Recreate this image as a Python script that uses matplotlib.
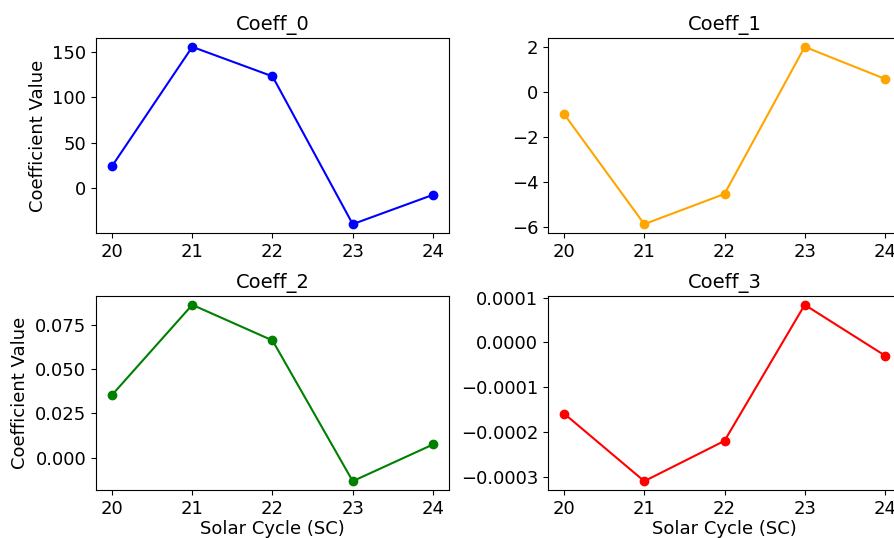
import matplotlib
matplotlib.use('agg')
import matplotlib.pyplot as plt

# ciclos solares
ciclos = [20, 21, 22, 23, 24]

coeff_0 = [24.0, 155.5, 123.0, -40.0, -7.7]
coeff_1 = [-0.98, -5.87, -4.53, 2.0, 0.58]
coeff_2 = [0.0355, 0.0866, 0.0664, -0.0134, 0.0074]
coeff_3 = [-0.000159, -0.00031, -0.00022, 0.0000837, -0.0000296]

nomes = ["Coeff_0", "Coeff_1", "Coeff_2", "Coeff_3"]
cores = ["blue", "orange", "green", "red"]
valores = [coeff_0, coeff_1, coeff_2, coeff_3]

plt.rcParams['font.size'] = 13

W, H = 894, 538
fig = plt.figure(figsize=(W / 100, H / 100), dpi=100)

# posicoes em pixels (esq, topo, dir, baixo) - a coluna da direita passa da borda
caixas = [(96, 38, 449, 233), (548, 38, 901, 233),
          (96, 296, 449, 490), (548, 296, 901, 490)]

for i in range(4):
    x0, y0, x1, y1 = caixas[i]
    ax = fig.add_axes([x0 / W, 1 - y1 / H, (x1 - x0) / W, (y1 - y0) / H])
    ax.plot(ciclos, valores[i], marker='o', color=cores[i])
    ax.set_title(nomes[i], fontsize=14)
    ax.set_xticks(ciclos)
    if i % 2 == 0:
        ax.set_ylabel("Coefficient Value")
    if i >= 2:
        ax.set_xlabel("Solar Cycle (SC)", labelpad=1.5)

fig.savefig("out.png", dpi=100)
